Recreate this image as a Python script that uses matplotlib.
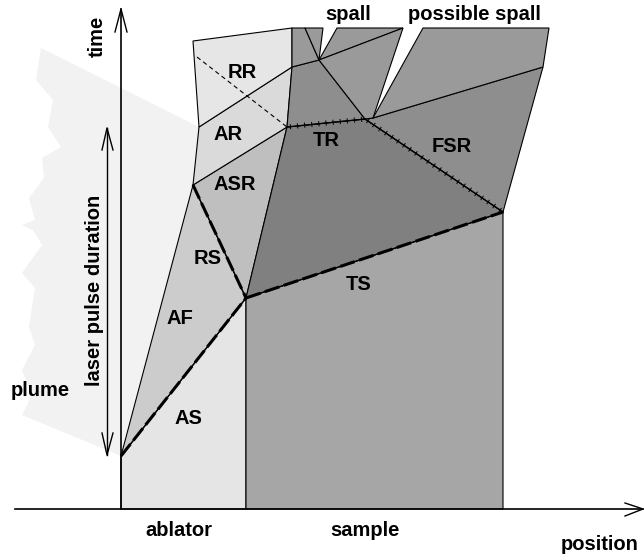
import numpy as np
import matplotlib.pyplot as plt
from matplotlib.patches import Polygon
import matplotlib.patheffects as pe

plt.rcParams['font.family'] = ['Liberation Sans', 'DejaVu Sans']

# diagram geometry, in picture units (x right, y down)
plume = [(41, 48), (36, 80), (53, 100), (48, 127), (61, 147), (42, 158), (44, 178),
         (29, 198), (35, 220), (22, 225), (33, 230), (42, 245), (22, 273), (35, 288),
         (29, 327), (35, 345), (22, 370), (32, 395), (22, 415), (121, 456),
         (193, 185), (199, 127)]

regions = {
    'AS':  [(121, 456), (246, 298), (246, 509), (121, 509)],
    'AF':  [(121, 456), (193, 185), (246, 298)],
    'ASR': [(193, 185), (287, 127), (246, 298)],
    'AR':  [(199, 127), (292, 67), (287, 127), (193, 185)],
    'RR':  [(193, 41), (292, 28), (292, 67), (199, 127)],
    'TS':  [(246, 298), (503, 212), (503, 509), (246, 509)],
    'TR':  [(287, 127), (365, 119), (503, 212), (246, 298)],
    'FSR': [(365, 119), (373, 118), (543, 67), (503, 212)],
    'M1':  [(292, 67), (319, 60), (365, 119), (287, 127)],
    'U1':  [(292, 28), (305, 28), (319, 60), (292, 67)],
    'U2':  [(305, 28), (323, 28), (319, 60)],
    'U3':  [(337, 28), (403, 28), (319, 60)],
    'U4':  [(319, 60), (403, 28), (373, 118), (365, 119)],
    'U5':  [(423, 28), (549, 28), (543, 67), (373, 118)],
}
shades = {'AS': '#e5e5e5', 'AF': '#cccccc', 'ASR': '#bfbfbf', 'AR': '#dadada',
          'RR': '#e6e6e6', 'TS': '#a6a6a6', 'TR': '#808080', 'FSR': '#8e8e8e',
          'M1': '#8e8e8e', 'U1': '#9a9a9a', 'U2': '#9a9a9a', 'U3': '#9a9a9a',
          'U4': '#9a9a9a', 'U5': '#9a9a9a'}

shocks = [[(121, 456), (246, 298)], [(193, 185), (246, 298)], [(246, 298), (503, 212)]]
ticked = [[(287, 127), (365, 119)], [(365, 119), (503, 212)]]
rr_dash = [(197, 57), (287, 127)]

labels = ['RR', 'AR', 'ASR', 'RS', 'AF', 'AS', 'TR', 'FSR', 'TS', 'spall', 'possible spall',
          'ablator', 'sample', 'position', 'plume']
label_xy = [(242, 73), (228, 134), (235, 185), (208, 259), (180, 318), (188, 418),
            (326, 140), (452, 146), (359, 284), (348, 15), (474, 15),
            (179, 530), (365, 530), (600, 544), (40, 391)]

fig = plt.figure(figsize=(6.44, 5.54), dpi=100)
ax = fig.add_axes([0, 0, 1, 1])
ax.set_xlim(0, 644)
ax.set_ylim(554, 0)
ax.axis('off')

ax.add_patch(Polygon(plume, closed=True, fc='#f2f2f2', ec='none', zorder=1))
for k, pts in regions.items():
    ax.add_patch(Polygon(pts, closed=True, fc=shades[k], ec='black', lw=0.8, zorder=2))

for s in shocks:
    xs, ys = zip(*s)
    ax.plot(xs, ys, color='black', lw=0.9, zorder=3)
    ax.plot(xs, ys, color='black', lw=2.2, dashes=(5, 1.5), zorder=3)
for s in ticked:
    xs, ys = zip(*s)
    ax.plot(xs, ys, color='black', lw=0.9, zorder=3,
            path_effects=[pe.TickedStroke(spacing=5, angle=90, length=0.3, linewidth=0.7),
                          pe.TickedStroke(spacing=5, angle=-90, length=0.3, linewidth=0.7),
                          pe.Normal()])
xs, ys = zip(*rr_dash)
ax.plot(xs, ys, color='black', lw=0.8, dashes=(4, 3), zorder=3)

# axes and arrows
ax.plot([15, 643], [509, 509], color='black', lw=1.2, zorder=4)
ax.plot([625, 643, 625], [503, 509, 516], color='black', lw=1, zorder=4)
ax.plot([121, 121], [509, 9], color='black', lw=1.2, zorder=4)
ax.plot([115, 121, 127], [32, 9, 32], color='black', lw=1, zorder=4)
ax.plot([107, 107], [128, 455], color='black', lw=1, zorder=4)
ax.plot([102, 107, 113], [150, 128, 150], color='black', lw=1, zorder=4)
ax.plot([102, 107, 113], [433, 455, 433], color='black', lw=1, zorder=4)

fs = 14.5
for t, (x, y) in zip(labels, label_xy):
    ax.text(x, y, t, ha='center', va='center', fontsize=fs, fontweight='bold', zorder=5)
ax.text(97, 36, 'time', rotation=90, ha='center', va='center', fontsize=fs,
        fontweight='bold', zorder=5)
ax.text(95, 290, 'laser pulse duration', rotation=90, ha='center', va='center',
        fontsize=fs, fontweight='bold', zorder=5)

fig.savefig('out.png', dpi=100)
